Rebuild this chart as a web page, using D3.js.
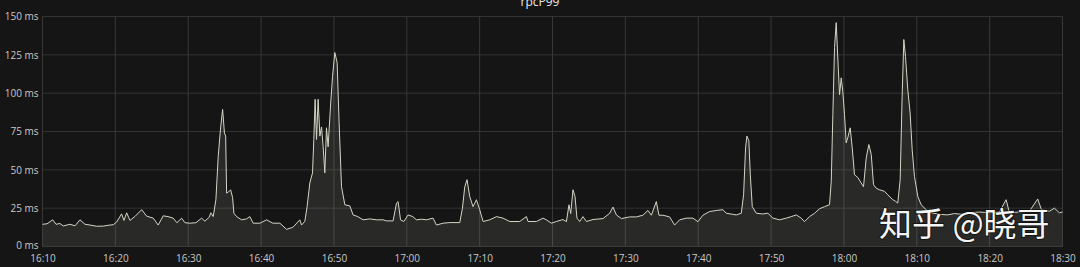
<!DOCTYPE html>
<html><head><meta charset="utf-8">
<script src="https://cdn.jsdelivr.net/npm/d3@7"></script>
<style>
html,body{margin:0;padding:0;background:#151515;}
svg{display:block;}
</style></head>
<body>
<svg id="c" width="1080" height="267"></svg>
<script>
// minutes after 16:10
const minutes = [0,0.62,1.4,1.85,2.4,2.85,3.77,4.46,5.14,5.83,6.52,7.43,8.34,9.26,9.71,10.18,10.86,11.18,11.55,12,12.69,13.61,14.29,15.2,15.88,16.57,17.22,17.94,18.45,19.09,19.55,20.23,21.06,21.84,22.29,22.88,23.11,23.43,23.8,24.12,24.42,24.72,24.97,25.14,25.27,25.51,25.82,26.09,26.27,26.64,27.33,28.01,28.46,28.92,29.84,30.75,31.62,32.58,33.5,34.36,35.32,35.56,36.01,36.32,36.69,37.06,37.24,37.42,37.61,37.83,38.07,38.3,38.52,38.75,38.98,39.2,39.53,39.81,40.12,40.44,40.71,41.04,41.5,42.18,42.63,43.28,44,44.92,45.84,46.75,47.22,48.12,48.59,48.81,49.14,49.59,50.18,50.82,51.33,52.02,52.7,53.61,54.07,54.98,55.9,57.27,57.64,57.96,58.27,58.64,59.09,59.56,60.01,60.47,61.39,62.3,63.21,64.13,65.5,66.42,66.64,67.79,68.7,69.16,69.85,70.53,71.44,71.91,72.26,72.5,72.81,73.09,73.36,73.73,74.18,74.65,75.56,76.93,77.85,78.3,78.77,79.45,80.59,81.51,82.41,83.1,83.57,84.25,84.61,85.16,86.08,86.76,87.45,88.37,89.27,89.96,90.64,91.56,92.48,93.39,93.85,94.72,95.23,95.91,96.23,96.5,96.68,96.95,97.15,97.42,97.97,98.87,99.56,100.25,101.17,102.08,102.77,103.46,104.14,104.59,105.28,105.97,106.65,107.34,108.02,108.26,108.48,108.71,108.94,109.16,109.4,109.63,109.85,110.08,110.31,110.53,110.86,111.14,111.45,111.91,112.37,112.69,113.06,113.42,113.75,114.06,114.43,114.88,115.57,116.02,116.71,117.08,117.39,117.72,117.99,118.22,118.45,118.76,119.09,119.37,119.68,120.14,120.6,121.29,122.02,123.11,124.21,125.17,126.13,127.23,128.6,129.97,131.34,132.26,132.72,134.09,135.46,136.6,137.11,138.2,138.89,139.57,140];
// rpcP99 in ms
const values = [14.5,14.8,17.4,14.5,15,13.4,14.5,13.5,17.4,14.5,14,13.2,13.3,14,14.2,16,21.3,17,22,17,19.6,24,19.8,18.5,14,20,19.5,18.5,15.5,18.5,15.5,15.2,15.5,18.5,16.5,19.1,22,19.5,30.5,58.8,76,89.4,74,72,34.8,35.5,37,32,21.7,19.5,17.4,18,19.5,15.2,15.2,17.4,15.2,15.2,11.2,12.5,17.4,14,16.5,26,41.4,48,69.8,96,69.8,96,72,78,65,48,77.4,65,91.6,111,126.5,120,80.7,39,27.2,26.5,20.6,19.5,17.4,18,17.4,17.4,16.7,16.7,28.3,29.3,17.4,16.3,20.6,19.5,17.4,17.8,17.4,18.5,14,15.2,15.6,15.6,25,39,43.6,32.6,26,30.5,24,16.3,17.4,19.5,18.5,16.3,16.3,19.5,16.3,16.3,18.5,17.4,15.2,16.3,17.6,16.2,27.2,21.5,37,32.6,18.5,16.3,19.5,16.3,17.6,18.2,21.7,25.7,20.6,18.2,19.3,19.3,20.4,23.5,20.4,29.3,20.4,20.4,19.3,14,17.4,18.5,18.5,16.2,20.4,22.8,23.5,24,21.7,21,20.6,21.7,33.7,64.3,72,69,46.8,26,21.7,21.2,21.7,18.5,17.4,18.5,19.5,20.6,18.5,16.2,19.5,21.7,24.6,26,27.2,42.5,86,129.8,146,123,99,110,101,86,67.6,71,77.4,64.3,46.8,45,41.4,39,57.8,66.5,60,40.3,38,37,36,33.7,30.5,29.5,28.3,43.6,98,135,124,102.5,87,63,45.7,32.6,27.2,24,22,21,20.6,21.5,21,22,22.5,22,22.5,30.5,22,22.5,23,31,24,23,25,22,22.5];
const yTicks = [0,25,50,75,100,125,150];
const xTickLabels = ["16:10","16:20","16:30","16:40","16:50","17:00","17:10","17:20","17:30","17:40","17:50","18:00","18:10","18:20","18:30"];
const title = "rpcP99";
const watermark = "知乎 @晓哥";

const parse = d3.timeParse("%H:%M");
const start = parse("16:10"), end = parse("18:30");
const data = minutes.map((m,i)=>({t:new Date(start.getTime()+m*60000), v:values[i]}));

const svg = d3.select("#c");
const L=42.5, R=1062.5, T=16.5, B=246.5;
const x = d3.scaleTime().domain([start,end]).range([L,R]);
const y = d3.scaleLinear().domain([0,150]).range([B,T]);

// grid
const g = svg.append("g");
g.selectAll("line.h").data(yTicks).join("line")
  .attr("x1",L).attr("x2",R).attr("y1",d=>y(d)).attr("y2",d=>y(d))
  .attr("stroke","#333").attr("stroke-width",1);
const xt = xTickLabels.map(s=>parse(s));
g.selectAll("line.v").data(xt).join("line")
  .attr("x1",d=>x(d)).attr("x2",d=>x(d)).attr("y1",T).attr("y2",B)
  .attr("stroke","#383838").attr("stroke-width",1);

// area + line
const area = d3.area().x(d=>x(d.t)).y0(B).y1(d=>y(d.v));
const line = d3.line().x(d=>x(d.t)).y(d=>y(d.v));
svg.append("path").datum(data).attr("d",area).attr("fill","rgba(190,200,170,0.12)");
svg.append("path").datum(data).attr("d",line).attr("fill","none")
  .attr("stroke","#d2d6c4").attr("stroke-width",1).attr("stroke-linejoin","round");

// y axis labels
const yAxis = d3.axisLeft(y).tickValues(yTicks).tickSize(0).tickPadding(4).tickFormat(d=>d+" ms");
const ya = svg.append("g").attr("transform",`translate(${L},0)`).call(yAxis);
ya.select(".domain").remove();
ya.selectAll("text").attr("fill","#c8c8c8").style("font-family","'Open Sans',sans-serif").style("font-size","10px");
ya.selectAll(".tick").filter(d=>d===0).select("text").attr("dy","0.2em");

// x axis labels
const xAxis = d3.axisBottom(x).tickValues(xt).tickSize(0).tickPadding(8).tickFormat(d3.timeFormat("%H:%M"));
const xa = svg.append("g").attr("transform",`translate(0,${B})`).call(xAxis);
xa.select(".domain").remove();
xa.selectAll("text").attr("fill","#c8c8c8").style("font-family","'Open Sans',sans-serif").style("font-size","10px");

// title
svg.append("text").attr("x",540).attr("y",6).attr("text-anchor","middle")
  .attr("fill","#e8e8e8").style("font-family","'Open Sans',sans-serif").style("font-size","12px").text(title);

// watermark
svg.append("text").attr("x",879).attr("y",236)
  .attr("fill","#f4f4f4").style("font-family","'Noto Sans CJK SC',sans-serif").style("font-size","33px")
  .style("paint-order","stroke").attr("stroke","rgba(0,0,0,0.5)").attr("stroke-width",2)
  .text(watermark);
</script>
</body></html>
